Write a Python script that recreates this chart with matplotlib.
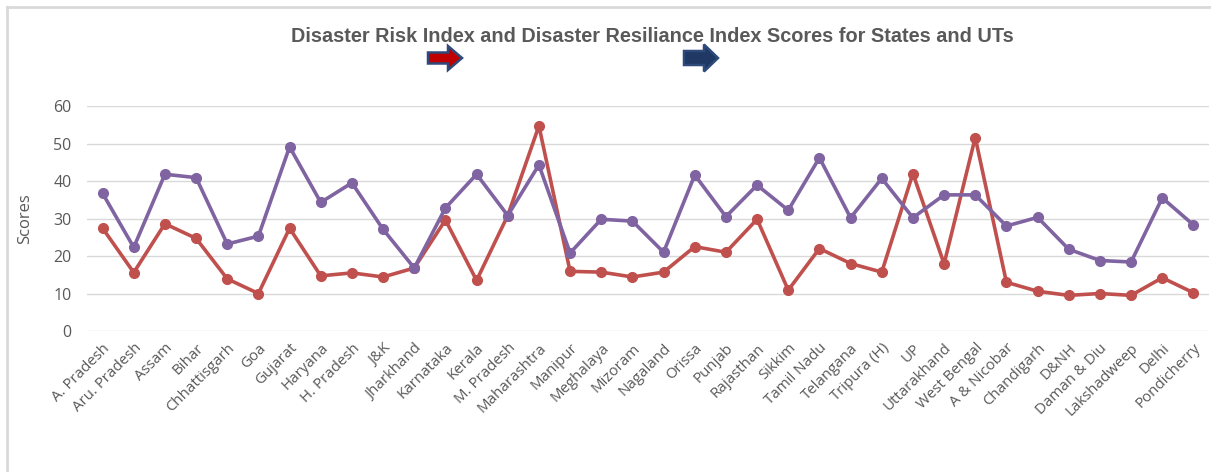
import matplotlib.pyplot as plt
from matplotlib.lines import Line2D
from matplotlib.patches import FancyArrow

# Data
states = ['A. Pradesh', 'Aru. Pradesh', 'Assam', 'Bihar', 'Chhattisgarh', 'Goa',
          'Gujarat', 'Haryana', 'H. Pradesh', 'J&K', 'Jharkhand', 'Karnataka',
          'Kerala', 'M. Pradesh', 'Maharashtra', 'Manipur', 'Meghalaya', 'Mizoram',
          'Nagaland', 'Orissa', 'Punjab', 'Rajasthan', 'Sikkim', 'Tamil Nadu',
          'Telangana', 'Tripura (H)', 'UP', 'Uttarakhand', 'West Bengal',
          'A & Nicobar', 'Chandigarh', 'D&NH', 'Daman & Diu', 'Lakshadweep',
          'Delhi', 'Pondicherry']

risk = [27.4, 15.6, 28.6, 24.7, 13.9, 10.0, 27.4, 14.7, 15.5, 14.4, 16.8, 29.6,
        13.5, 30.8, 54.7, 15.9, 15.7, 14.4, 15.7, 22.5, 21.0, 29.8, 10.9, 22.0,
        18.0, 15.7, 42.0, 17.9, 51.6, 13.0, 10.6, 9.5, 10.0, 9.5, 14.2, 10.2]

resilience = [36.7, 22.3, 41.8, 40.9, 23.2, 25.3, 49.1, 34.3, 39.5, 27.1, 16.8, 32.8,
              41.8, 30.8, 44.3, 20.8, 29.8, 29.3, 21.0, 41.6, 30.5, 38.9, 32.2, 46.2,
              30.2, 40.7, 30.2, 36.3, 36.3, 28.0, 30.3, 21.8, 18.8, 18.4, 35.5, 28.3]

yticks = [0, 10, 20, 30, 40, 50, 60]

txt_color = '#595959'

fig = plt.figure(figsize=(12.11, 4.72), dpi=100)
ax = fig.add_axes([87 / 1211, 141 / 472, 1122 / 1211, 225 / 472])

x = list(range(len(states)))
ax.plot(x, risk, color='#C0504D', lw=2.6, marker='o', ms=7, zorder=3)
ax.plot(x, resilience, color='#8064A2', lw=2.6, marker='o', ms=7, zorder=4)

ax.set_xlim(-0.5, len(states) - 0.5)
ax.set_ylim(0, 60)
ax.set_yticks(yticks)
ax.set_yticklabels([str(v) for v in yticks], fontsize=11.5, color=txt_color,
                   family='Open Sans')
ax.set_xticks(x)
ax.set_xticklabels(states, rotation=45, ha='right', rotation_mode='anchor',
                   fontsize=10.8, color=txt_color, family='Open Sans')
ax.tick_params(axis='both', length=0)
ax.tick_params(axis='y', pad=11)
ax.tick_params(axis='x', pad=7)
ax.grid(axis='y', color='#D9D9D9', lw=1)
ax.set_axisbelow(True)
for s in ax.spines.values():
    s.set_visible(False)

ax.set_ylabel('Scores', fontsize=12, color=txt_color, family='Open Sans')
ax.yaxis.set_label_coords(-54 / 1122, 0.5)

# Judul
fig.text(652 / 1211, 1 - 37 / 472,
         'Disaster Risk Index and Disaster Resiliance Index Scores for States and UTs',
         ha='center', va='center', fontsize=14.3, fontweight='bold', color=txt_color,
         family='Liberation Sans')

# Panah di bawah judul
W, H = 1211, 472
fig.patches.append(FancyArrow(428 / W, 1 - 58 / H, 20 / W, 0, width=11 / H,
                              head_width=24 / H, head_length=14 / W,
                              length_includes_head=False, transform=fig.transFigure,
                              facecolor='#C00000', edgecolor='#2E4A7A', lw=1.8))
fig.patches.append(FancyArrow(684 / W, 1 - 58 / H, 20 / W, 0, width=14 / H,
                              head_width=27 / H, head_length=14 / W,
                              length_includes_head=False, transform=fig.transFigure,
                              facecolor='#1F3864', edgecolor='#2E4A7A', lw=1.8))

# Garis tepi kiri dan atas
fig.lines.append(Line2D([7 / W, 7 / W], [0, 1 - 7 / H], transform=fig.transFigure,
                        color='#D9D9D9', lw=2))
fig.lines.append(Line2D([7 / W, 1], [1 - 7 / H, 1 - 7 / H], transform=fig.transFigure,
                        color='#D9D9D9', lw=2))

fig.savefig('out.png', dpi=100)
